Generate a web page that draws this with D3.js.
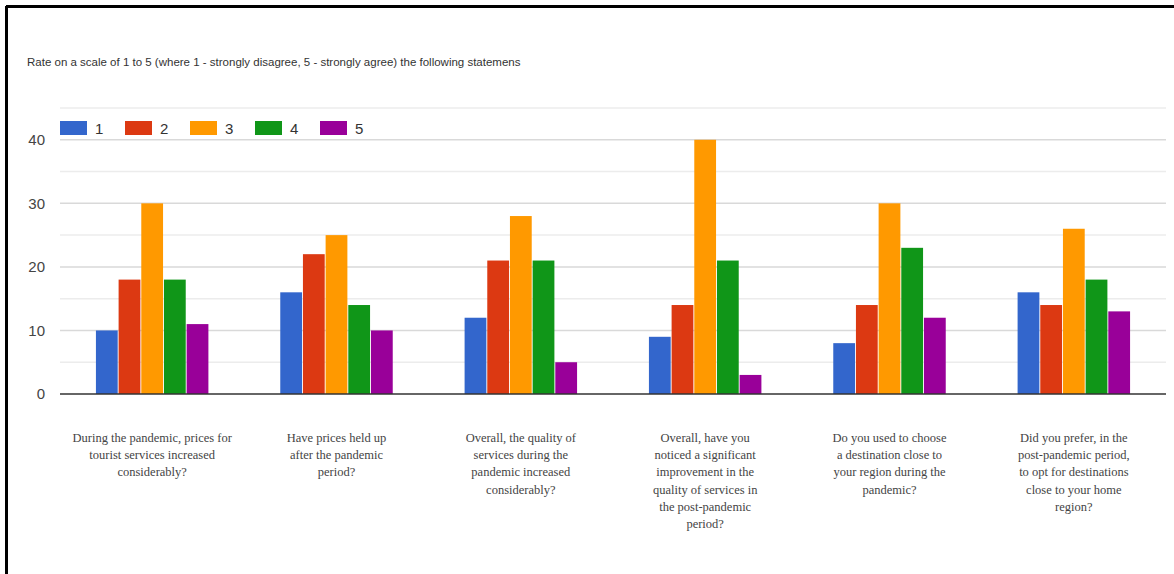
<!DOCTYPE html>
<html lang="en">
<head>
<meta charset="UTF-8">
<title>Rate on a scale of 1 to 5</title>
<script src="https://d3js.org/d3.v7.min.js"></script>
<style>
    body { margin: 0; background: #fff; }
    svg { display: block; }
    .title { font-family: "Liberation Sans", Arial, sans-serif; font-size: 11.5px; fill: #333; }
    .ylab { font-family: "Liberation Sans", Arial, sans-serif; font-size: 15px; fill: #444; }
    .leg { font-family: "Liberation Sans", Arial, sans-serif; font-size: 15px; fill: #333; }
    .xlab { font-family: "Liberation Serif", "Times New Roman", serif; font-size: 12.5px; fill: #444; }
</style>
</head>
<body>
<svg width="1174" height="574"></svg>
<script>
    // data
    const questions = [
        ["During the pandemic, prices for", "tourist services increased", "considerably?"],
        ["Have prices held up", "after the pandemic", "period?"],
        ["Overall, the quality of", "services during the", "pandemic increased", "considerably?"],
        ["Overall, have you", "noticed a significant", "improvement in the", "quality of services in", "the post-pandemic", "period?"],
        ["Do you used to choose", "a destination close to", "your region during the", "pandemic?"],
        ["Did you prefer, in the", "post-pandemic period,", "to opt for destinations", "close to your home", "region?"]
    ];
    const seriesNames = ["1", "2", "3", "4", "5"];
    const rating1 = [10, 16, 12, 9, 8, 16];
    const rating2 = [18, 22, 21, 14, 14, 14];
    const rating3 = [30, 25, 28, 40, 30, 26];
    const rating4 = [18, 14, 21, 21, 23, 18];
    const rating5 = [11, 10, 5, 3, 12, 13];
    const yTicks = [0, 10, 20, 30, 40];
    const gridTicks = [5, 15, 25, 35, 45];
    const colors = ["#3366cc", "#dc3912", "#ff9900", "#109618", "#990099"];
    const title = "Rate on a scale of 1 to 5 (where 1 - strongly disagree, 5 - strongly agree) the following statemens";

    const series = [rating1, rating2, rating3, rating4, rating5];

    const svg = d3.select("svg");

    // frame
    svg.append("line").attr("x1", 6).attr("x2", 1174).attr("y1", 6.5).attr("y2", 6.5)
        .attr("stroke", "#000").attr("stroke-width", 3);
    svg.append("line").attr("x1", 6.5).attr("x2", 6.5).attr("y1", 6).attr("y2", 574)
        .attr("stroke", "#000").attr("stroke-width", 3);

    svg.append("text").attr("class", "title").attr("x", 27).attr("y", 66).text(title);

    const plotLeft = 60, plotRight = 1166, plotTop = 108, plotBottom = 394;

    const x0 = d3.scaleBand().domain(d3.range(questions.length))
        .range([plotLeft, plotRight]).paddingInner(0.38).paddingOuter(0.19);
    const x1 = d3.scaleBand().domain(d3.range(seriesNames.length))
        .range([0, x0.bandwidth()]).padding(0.04);
    const y = d3.scaleLinear().domain([0, 45]).range([plotBottom, plotTop]);

    // gridlines
    svg.append("g").selectAll("line").data(gridTicks).join("line")
        .attr("x1", plotLeft).attr("x2", plotRight)
        .attr("y1", d => y(d)).attr("y2", d => y(d))
        .attr("stroke", "#ececec").attr("stroke-width", 1.5);
    svg.append("g").selectAll("line").data(yTicks.filter(d => d > 0)).join("line")
        .attr("x1", plotLeft).attr("x2", plotRight)
        .attr("y1", d => y(d)).attr("y2", d => y(d))
        .attr("stroke", "#d9d9d9").attr("stroke-width", 1.5);

    svg.append("g").selectAll("text").data(yTicks).join("text")
        .attr("class", "ylab")
        .attr("x", 45).attr("y", d => y(d)).attr("dy", "0.36em")
        .attr("text-anchor", "end")
        .text(d => d);

    // bars
    const groups = svg.append("g").selectAll("g").data(questions).join("g")
        .attr("transform", (d, i) => `translate(${x0(i)},0)`);
    groups.selectAll("rect")
        .data((d, i) => series.map((s, k) => ({k: k, v: s[i]})))
        .join("rect")
        .attr("x", d => x1(d.k))
        .attr("width", x1.bandwidth())
        .attr("y", d => y(d.v))
        .attr("height", d => y(0) - y(d.v))
        .attr("fill", d => colors[d.k]);

    // baseline
    svg.append("line").attr("x1", plotLeft).attr("x2", plotRight)
        .attr("y1", y(0)).attr("y2", y(0))
        .attr("stroke", "#333").attr("stroke-width", 1.5);

    // category labels
    groups.append("text").attr("class", "xlab")
        .attr("text-anchor", "middle")
        .attr("x", x0.bandwidth() / 2)
        .attr("y", 442)
        .selectAll("tspan").data(d => d).join("tspan")
        .attr("x", x0.bandwidth() / 2)
        .attr("dy", (d, j) => j === 0 ? 0 : 17.2)
        .text(d => d);

    // legend
    const leg = svg.append("g").selectAll("g").data(seriesNames).join("g")
        .attr("transform", (d, i) => `translate(${60 + i * 65},121)`);
    leg.append("rect").attr("width", 27).attr("height", 14).attr("fill", (d, i) => colors[i]);
    leg.append("text").attr("class", "leg").attr("x", 35).attr("y", 13).text(d => d);
</script>
</body>
</html>
